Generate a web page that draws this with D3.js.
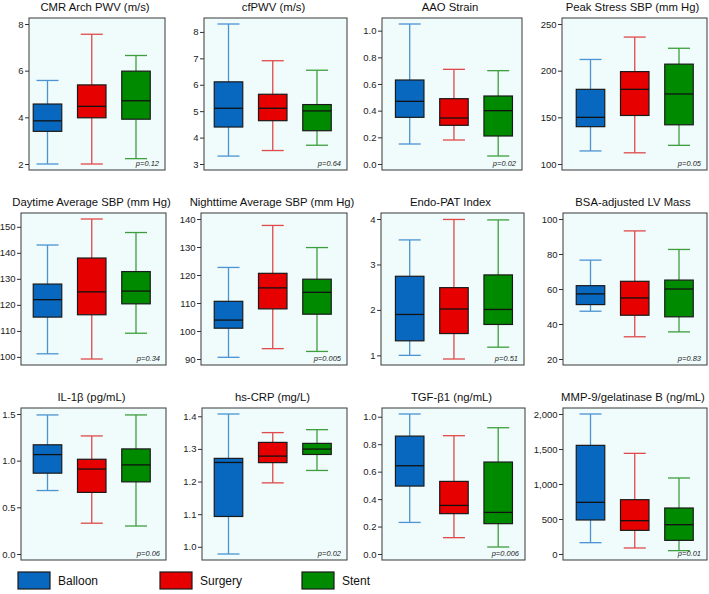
<!DOCTYPE html>
<html><head><meta charset="utf-8">
<script src="https://cdn.jsdelivr.net/npm/d3@7"></script>
<style>body{margin:0;background:#fff}svg{display:block}</style>
</head><body>
<svg id="chart" width="709" height="594"></svg>
<script>
// ---------------- DATA ----------------
const groups = ["Balloon", "Surgery", "Stent"];
const titles = ["CMR Arch PWV (m/s)", "cfPWV (m/s)", "AAO Strain", "Peak Stress SBP (mm Hg)",
  "Daytime Average SBP (mm Hg)", "Nighttime Average SBP (mm Hg)", "Endo-PAT Index", "BSA-adjusted LV Mass",
  "IL-1\u03B2 (pg/mL)", "hs-CRP (mg/L)", "TGF-\u03B21 (ng/mL)", "MMP-9/gelatinase B (ng/mL)"];
const pValues = ["p=0.12", "p=0.64", "p=0.02", "p=0.05", "p=0.34", "p=0.005", "p=0.51", "p=0.83",
  "p=0.06", "p=0.02", "p=0.006", "p=0.01"];
const tickValues = [
  [2, 4, 6, 8], [3, 4, 5, 6, 7, 8], [0, 0.2, 0.4, 0.6, 0.8, 1.0], [100, 150, 200, 250],
  [100, 110, 120, 130, 140, 150], [90, 100, 110, 120, 130, 140], [1, 2, 3, 4], [20, 40, 60, 80, 100],
  [0, 0.5, 1.0, 1.5], [1.0, 1.1, 1.2, 1.3, 1.4], [0, 0.2, 0.4, 0.6, 0.8, 1.0], [0, 500, 1000, 1500, 2000]];
const tickFormats = ["d", "d", ".1f", "d", "d", "d", "d", "d", ".1f", ".1f", ".1f", ","];
// each box: [min, Q1, median, Q3, max], order Balloon, Surgery, Stent
const boxStats = [
  [[2.0, 3.40, 3.85, 4.57, 5.58], [2.0, 3.98, 4.47, 5.39, 7.56], [2.23, 3.92, 4.71, 5.98, 6.65]],
  [[3.30, 4.40, 5.11, 6.11, 8.30], [3.51, 4.64, 5.11, 5.64, 6.91], [3.71, 4.26, 5.01, 5.25, 6.55]],
  [[0.15, 0.35, 0.47, 0.63, 1.05], [0.18, 0.29, 0.345, 0.49, 0.71], [0.06, 0.21, 0.40, 0.51, 0.70]],
  [[114, 140, 150, 180, 212], [112, 152, 180, 199, 236], [120, 142, 175, 207, 224]],
  [[101.2, 115.3, 122, 128, 143], [99.2, 116.2, 125, 138, 153], [109.1, 120.4, 125.3, 132.8, 147.8]],
  [[90.6, 101, 103.9, 110.6, 122.7], [93.7, 107.9, 115.4, 120.6, 137.7], [92.7, 106, 113.8, 118.5, 129.8]],
  [[1.0, 1.32, 1.90, 2.74, 3.54], [0.92, 1.48, 2.02, 2.49, 3.99], [1.18, 1.68, 2.01, 2.77, 3.98]],
  [[47.3, 51.1, 57.2, 61.9, 76.5], [32.7, 45, 54.9, 64.4, 93.2], [35.5, 44.1, 60, 65.1, 82.6]],
  [[0.68, 0.866, 1.065, 1.17, 1.49], [0.33, 0.66, 0.91, 1.015, 1.265], [0.30, 0.773, 0.955, 1.126, 1.49]],
  [[0.978, 1.093, 1.2585, 1.271, 1.407], [1.196, 1.258, 1.278, 1.32, 1.35], [1.234, 1.283, 1.2995, 1.317, 1.359]],
  [[0.23, 0.495, 0.643, 0.859, 1.02], [0.119, 0.294, 0.354, 0.529, 0.862], [0.051, 0.221, 0.303, 0.67, 0.92]],
  [[162, 486, 738, 1552, 2000], [86, 338, 476, 776, 1438], [48, 195, 419, 657, 1086]]];

// ---------------- STYLE / LAYOUT ----------------
const fillColors = ["#0868c0", "#e60000", "#008a00"];
const whiskerColors = ["#4b93d3", "#e04a4a", "#3d9e3d"];
const frameLeft = [29, 204, 382, 562, 21, 201, 381, 563, 21, 202, 382, 563];
const frameRight = [165, 347, 522, 707, 166, 347, 524, 707, 166, 347, 525, 707];
const colFirstBox = [47.5, 228.5, 409.7, 590.5];
const rowTop = [18, 213, 408], rowBottom = [170, 365, 560];
const font = "Arial, 'Liberation Sans', Helvetica, sans-serif";

const svg = d3.select("#chart");

titles.forEach((title, i) => {
  const r = Math.floor(i / 4), c = i % 4;
  const L = frameLeft[i], R = frameRight[i], T = rowTop[r], B = rowBottom[r];
  const g = svg.append("g");

  const allVals = boxStats[i].flat().concat(tickValues[i]);
  const y = d3.scaleLinear().domain(d3.extent(allVals)).range([B - 6, T + 6]);
  const x = d3.scalePoint().domain(groups).range([colFirstBox[c], colFirstBox[c] + 88.5]);
  const bw = 28.5, cw = 22;

  g.append("rect").attr("x", L).attr("y", T).attr("width", R - L).attr("height", B - T)
    .attr("fill", "#f0fbfb").attr("stroke", "none");

  groups.forEach((grp, k) => {
    const [mn, q1, md, q3, mx] = boxStats[i][k];
    const cx = x(grp);
    const wc = whiskerColors[k];
    g.append("line").attr("x1", cx).attr("x2", cx).attr("y1", y(mx)).attr("y2", y(q3))
      .attr("stroke", wc).attr("stroke-width", 1.3);
    g.append("line").attr("x1", cx).attr("x2", cx).attr("y1", y(q1)).attr("y2", y(mn))
      .attr("stroke", wc).attr("stroke-width", 1.3);
    [mn, mx].forEach(v => g.append("line").attr("x1", cx - cw / 2).attr("x2", cx + cw / 2)
      .attr("y1", y(v)).attr("y2", y(v)).attr("stroke", wc).attr("stroke-width", 1.3));
    g.append("rect").attr("x", cx - bw / 2).attr("y", y(q3)).attr("width", bw)
      .attr("height", y(q1) - y(q3)).attr("fill", fillColors[k])
      .attr("stroke", "#1a1a1a").attr("stroke-width", 1.2);
    g.append("line").attr("x1", cx - bw / 2).attr("x2", cx + bw / 2).attr("y1", y(md)).attr("y2", y(md))
      .attr("stroke", "#111").attr("stroke-width", 1.3);
  });

  g.append("rect").attr("x", L).attr("y", T).attr("width", R - L).attr("height", B - T)
    .attr("fill", "none").attr("stroke", "#4a4a4a").attr("stroke-width", 1.1);

  const axis = d3.axisLeft(y).tickValues(tickValues[i]).tickSize(4).tickPadding(1.5)
    .tickFormat(d3.format(tickFormats[i]));
  const ag = g.append("g").attr("transform", `translate(${L},0)`).call(axis);
  ag.select(".domain").remove();
  ag.selectAll(".tick line").attr("stroke", "#333");
  ag.selectAll(".tick text").attr("fill", "#222").style("font-family", font).style("font-size", "9.5px");

  g.append("text").attr("x", (L + R) / 2 - 2).attr("y", T - 7).attr("text-anchor", "middle")
    .style("font-family", font).style("font-size", "11.3px").attr("fill", "#111").text(title);

  g.append("text").attr("x", R - 6).attr("y", B - 4).attr("text-anchor", "end")
    .style("font-family", font).style("font-size", "7.5px").style("font-style", "italic")
    .attr("fill", "#222").text(pValues[i]);
});

// legend
const legendX = [18, 160, 302];
groups.forEach((grp, k) => {
  svg.append("rect").attr("x", legendX[k]).attr("y", 572).attr("width", 32).attr("height", 17)
    .attr("fill", fillColors[k]).attr("stroke", "#1a1a1a").attr("stroke-width", 1.2);
  svg.append("text").attr("x", legendX[k] + 40).attr("y", 585).style("font-family", font)
    .style("font-size", "12px").attr("fill", "#111").text(grp);
});
</script>
</body></html>
